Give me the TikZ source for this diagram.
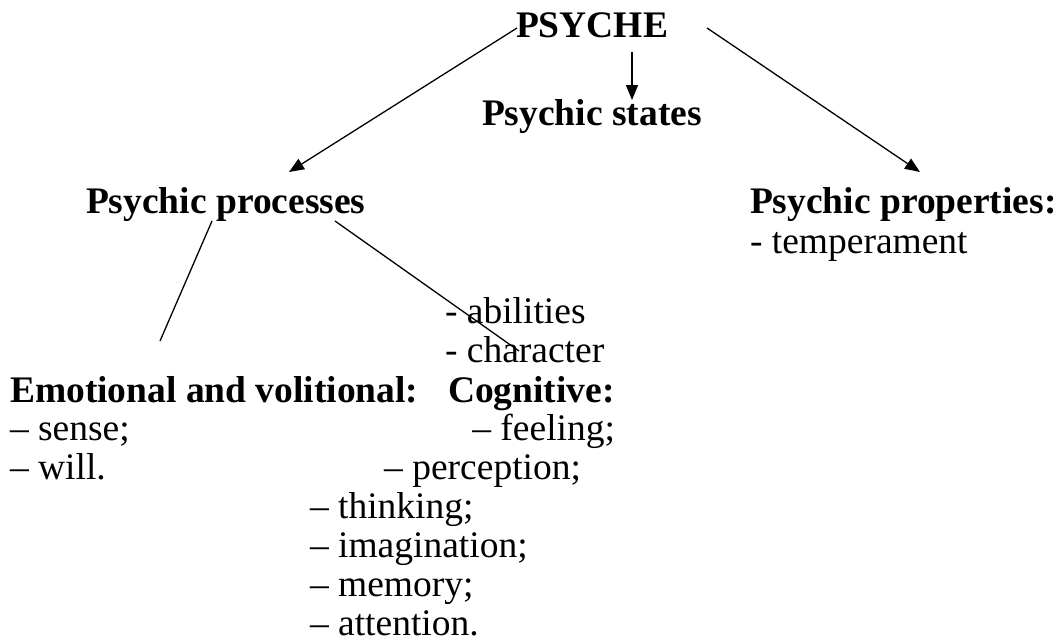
\documentclass[tikz,border=0pt]{standalone}
\usepackage{fontspec}
\setmainfont{Liberation Serif}
\usetikzlibrary{arrows.meta}
\begin{document}
\begin{tikzpicture}[x=1pt,y=-1pt,
  txt/.style={inner sep=0pt,outer sep=0pt,font=\fontsize{37.5}{41}\selectfont},
  head/.style={txt,font=\fontsize{37.5}{41}\selectfont\bfseries},
  link/.style={line width=1.3pt},
  arr/.style={link,-{Triangle[length=15pt,width=12pt]}}]
\useasboundingbox (0,0) rectangle (1057,643);
% headings
\node[head,anchor=base west] (psyche) at (516,37) {PSYCHE};
\node[head,anchor=base west] (states) at (482,125) {Psychic states};
\node[head,anchor=base west] (proc) at (86,213) {Psychic processes};
\node[head,anchor=base west] (prop) at (750,213) {Psychic properties:};
\node[txt,anchor=base west] (temp) at (750,253) {- temperament};
\node[txt,anchor=base west] (abil) at (445,323) {- abilities};
\node[txt,anchor=base west] (char) at (445,362) {- character};
\node[head,anchor=base west] (emo) at (10,402) {Emotional and volitional:};
\node[head,anchor=base west] (cog) at (448,402) {Cognitive:};
% list items
\node[txt,anchor=base west] (sense) at (10,440) {– sense;};
\node[txt,anchor=base west] (will) at (10,479) {– will.};
\node[txt,anchor=base east] (feel) at (615,440) {– feeling;};
\node[txt,anchor=base east] (perc) at (581,479) {– perception;};
\node[txt,anchor=base west] (think) at (310,518) {– thinking;};
\node[txt,anchor=base west] (imag) at (310,557) {– imagination;};
\node[txt,anchor=base west] (mem) at (310,596) {– memory;};
\node[txt,anchor=base west] (att) at (310,635) {– attention.};
% connector ends
\coordinate (psL) at (517,28);
\coordinate (psR) at (707,28);
\coordinate (psD) at (632,52);
\coordinate (procTip) at (289,172);
\coordinate (propTip) at (920,172);
\coordinate (statesTip) at (632,100);
\coordinate (procL) at (212,221);
\coordinate (procR) at (335,221);
\coordinate (emoTop) at (160,341);
\coordinate (cogEnd) at (519,351);
% connectors
\draw[arr] (psL) -- (procTip);
\draw[arr] (psR) -- (propTip);
\draw[arr] (psD) -- (statesTip);
\draw[link] (procL) -- (emoTop);
\draw[link] (procR) -- (cogEnd);
\end{tikzpicture}
\end{document}
